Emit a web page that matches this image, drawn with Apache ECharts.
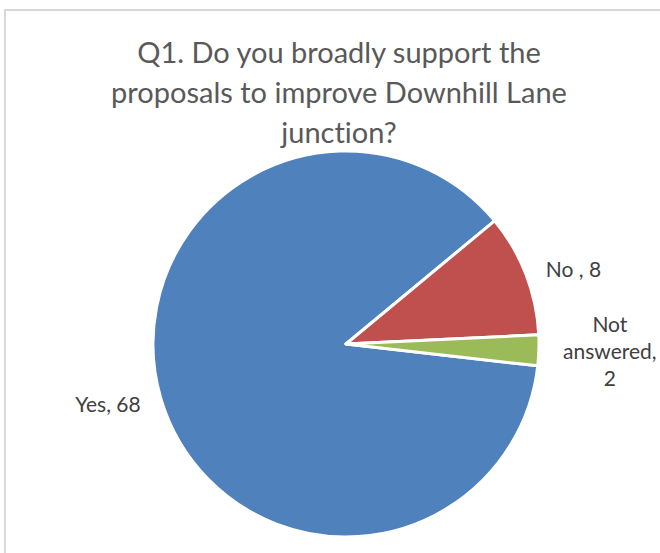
<!DOCTYPE html>
<html>
<head>
<meta charset="utf-8">
<script src="https://cdn.jsdelivr.net/npm/echarts@6/dist/echarts.min.js"></script>
<style>
  html, body { margin: 0; padding: 0; background: #ffffff; }
  #chart { width: 660px; height: 553px; }
  #chart text { font-variant-ligatures: none; }
</style>
</head>
<body>
<div id="chart"></div>
<script>
// Survey responses for Q1
const categories = ['Yes', 'No ', 'Not answered'];
const responses = [68, 8, 2];
const sliceColors = ['#4F81BD', '#C0504D', '#9BBB59'];
const titleLines = ['Q1. Do you broadly support the', 'proposals to improve Downhill Lane', 'junction?'];

const FONT = 'Lato, "Open Sans", sans-serif';

const chart = echarts.init(document.getElementById('chart'), null, { renderer: 'svg' });

const pieData = categories.map((name, i) => ({
  name: name,
  value: responses[i],
  itemStyle: { color: sliceColors[i] }
}));

chart.setOption({
  animation: false,
  backgroundColor: '#ffffff',
  graphic: [{
    type: 'rect',
    shape: { x: 5, y: 10, width: 700, height: 600 },
    style: { fill: 'none', stroke: '#d9d9d9', lineWidth: 2 },
    silent: true,
    z: -1
  }],
  title: {
    text: titleLines.join('\n'),
    left: 334,
    textAlign: 'center',
    top: 26,
    textStyle: {
      fontFamily: FONT,
      fontSize: 29,
      fontWeight: 'normal',
      color: '#595959',
      lineHeight: 40
    }
  },
  series: [{
    type: 'pie',
    center: [346, 344],
    radius: 193,
    startAngle: -6.5,
    clockwise: true,
    avoidLabelOverlap: false,
    itemStyle: { borderColor: '#ffffff', borderWidth: 3 },
    label: {
      show: true,
      position: 'outside',
      fontFamily: FONT,
      fontSize: 21,
      lineHeight: 27,
      color: '#404040',
      formatter: (p) => {
        const text = p.name + ', ' + p.value;
        if (p.name.length > 10) {
          const lines = text.split(' ');
          return lines.map(l => '{c|' + l + '}').join('\n');
        }
        return text;
      },
      rich: {
        c: { width: 100, align: 'center', fontFamily: FONT, fontSize: 21, lineHeight: 27, color: '#404040' }
      }
    },
    labelLine: { show: false, length: 16, length2: 0 },
    data: pieData
  }]
});
</script>
</body>
</html>
